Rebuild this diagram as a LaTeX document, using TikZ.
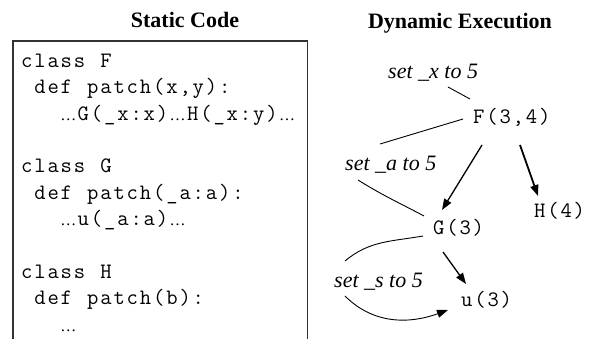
\documentclass[tikz,border=0pt]{standalone}
\usepackage{fontspec}
\setmainfont{Liberation Serif}
\usetikzlibrary{calc,arrows.meta}
\newcommand\mydots{\makebox[17pt][c]{\rmfamily\fontsize{16}{16}\selectfont …}}
\makeatletter
\def\mono#1{\mono@#1\relax}
\def\mono@#1{\ifx#1\relax\else\makebox[13.2pt][c]{#1}\expandafter\mono@\fi}
\makeatother
\newcommand\codefont{\ttfamily\fontsize{22}{26}\selectfont}
\tikzset{
  codeline/.style={anchor=base west, inner sep=0pt, font=\codefont},
  monolab/.style={anchor=base west, inner sep=0pt, font=\codefont},
  itlab/.style={anchor=base west, inner sep=0pt, font=\itshape\fontsize{22}{26}\selectfont},
  titletext/.style={anchor=base, inner sep=0pt, font=\bfseries\fontsize{22}{26}\selectfont},
  link/.style={line width=0.9pt, black},
  arr/.style={line width=1.3pt, black, -{Triangle[length=11pt,width=8pt]}},
}
\begin{document}
\begin{tikzpicture}[x=1pt,y=1pt]
\useasboundingbox (0,0) rectangle (591,-339);
% titles
\node[titletext] (t1) at (185,-28) {Static Code};
\node[titletext] (t2) at (460,-29) {Dynamic Execution};
% code box (open at bottom)
\draw[line width=1.3pt, black!80] (13,-339) -- (13,-41) -- (307.5,-41) -- (307.5,-339);
% code lines
\node[codeline] (c1) at (20,-67.3) {\mono{class~F}};
\node[codeline] (c2) at (33.2,-93.7) {\mono{def~patch(x,y):}};
\node[codeline] (c3) at (59.6,-120.1) {\mydots\mono{G(\_x:x)}\mydots\mono{H(\_x:y)}\mydots};
\node[codeline] (c4) at (20,-172.9) {\mono{class~G}};
\node[codeline] (c5) at (33.2,-199.3) {\mono{def~patch(\_a:a):}};
\node[codeline] (c6) at (59.6,-225.7) {\mydots\mono{u(\_a:a)}\mydots};
\node[codeline] (c7) at (20,-278.5) {\mono{class~H}};
\node[codeline] (c8) at (33.2,-304.9) {\mono{def~patch(b):}};
\node[codeline] (c9) at (59.6,-331.3) {\mydots};
% execution tree
\node[itlab] (sx) at (388,-79) {set \_x to 5};
\node[monolab] (F) at (472,-124) {\mono{F(3,4)}};
\node[itlab] (sa) at (345,-171) {set \_a to 5};
\node[monolab] (G) at (432,-234) {\mono{G(3)}};
\node[monolab] (H) at (533,-217) {\mono{H(4)}};
\node[itlab] (ss) at (334,-287) {set \_s to 5};
\node[monolab] (u) at (460,-306) {\mono{u(3)}};
% connectors
\draw[link] ($(sx.base west)+(60,-8)$) -- ($(F.base west)+(-2,25)$);
\draw[link] ($(F.base west)+(-9,5)$) -- ($(sa.base west)+(35,27)$);
\draw[link] ($(sa.base west)+(13,-9)$) to[out=-32,in=152] ($(G.base west)+(-8,18)$);
\draw[arr] ($(F.base west)+(10,-21)$) -- ($(G.base west)+(10,24)$);
\draw[arr, line width=1.8pt] ($(F.base west)+(48,-21)$) -- ($(H.base west)+(5,21)$);
\draw[arr] ($(G.base west)+(11,-18)$) -- ($(u.base west)+(6,22)$);
\draw[link] ($(G.base west)+(-9,-2)$) to[out=190,in=40] ($(ss.base west)+(11,26)$);
\draw[arr, line width=0.9pt] ($(ss.base west)+(11,-9)$) to[out=-45,in=200] ($(u.base west)+(-12,-4)$);
\end{tikzpicture}
\end{document}
